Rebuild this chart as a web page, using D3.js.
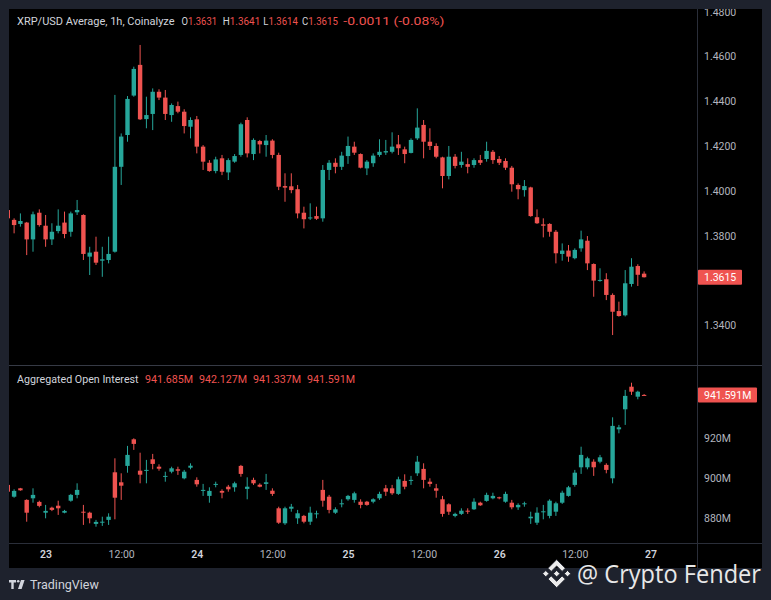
<!DOCTYPE html>
<html>
<head>
<meta charset="utf-8">
<script src="https://cdn.jsdelivr.net/npm/d3@7"></script>
<style>
  body { margin: 0; background: #1e222d; }
  svg { display: block; font-family: Roboto, sans-serif; }
</style>
</head>
<body>
<svg></svg>
<script>
// XRP/USD 1h candles, first candle 22 Nov 18:00
const priceOpen = [
  1.3915, 1.3871, 1.3853, 1.3859, 1.3784, 1.3903, 1.3845, 1.3784, 1.3821, 1.3859,
  1.3818, 1.3905, 1.3893, 1.3707, 1.3729, 1.3689, 1.3692, 1.3729, 1.4108, 1.4250,
  1.4426, 1.4563, 1.4321, 1.4344, 1.4443, 1.4417, 1.4339, 1.4379, 1.4354, 1.4287,
  1.4320, 1.4198, 1.4126, 1.4089, 1.4146, 1.4083, 1.4131, 1.4161, 1.4317, 1.4165,
  1.4223, 1.4205, 1.4225, 1.4161, 1.4022, 1.4021, 1.4008, 1.3903, 1.3878, 1.3888,
  1.3878, 1.4094, 1.4126, 1.4108, 1.4156, 1.4198, 1.4165, 1.4101, 1.4124, 1.4161,
  1.4172, 1.4175, 1.4208, 1.4186, 1.4170, 1.4235, 1.4295, 1.4220, 1.4201, 1.4150,
  1.4067, 1.4153, 1.4116, 1.4120, 1.4116, 1.4138, 1.4143, 1.4175, 1.4143, 1.4134,
  1.4104, 1.4027, 1.4004, 1.4016, 1.3883, 1.3851, 1.3853, 1.3818, 1.3719, 1.3734,
  1.3700, 1.3744, 1.3778, 1.3674, 1.3600, 1.3606, 1.3536, 1.3464, 1.3445, 1.3585,
  1.3665, 1.3631
]
const priceHigh = [
  1.3922, 1.3878, 1.3900, 1.3862, 1.3908, 1.3918, 1.3893, 1.3856, 1.3918, 1.3908,
  1.3908, 1.3960, 1.3896, 1.3751, 1.3796, 1.3751, 1.3796, 1.4429, 1.4257, 1.4424,
  1.4555, 1.4652, 1.4421, 1.4458, 1.4454, 1.4451, 1.4391, 1.4399, 1.4365, 1.4329,
  1.4335, 1.4205, 1.4138, 1.4153, 1.4161, 1.4146, 1.4165, 1.4305, 1.4329, 1.4235,
  1.4228, 1.4250, 1.4231, 1.4171, 1.4079, 1.4079, 1.4027, 1.3930, 1.3945, 1.3930,
  1.4116, 1.4138, 1.4146, 1.4175, 1.4243, 1.4220, 1.4168, 1.4138, 1.4168, 1.4231,
  1.4228, 1.4262, 1.4250, 1.4198, 1.4235, 1.4369, 1.4317, 1.4280, 1.4213, 1.4153,
  1.4201, 1.4165, 1.4175, 1.4146, 1.4146, 1.4161, 1.4220, 1.4183, 1.4156, 1.4146,
  1.4112, 1.4034, 1.4049, 1.4019, 1.3918, 1.3878, 1.3856, 1.3826, 1.3766, 1.3759,
  1.3744, 1.3823, 1.3799, 1.3677, 1.3655, 1.3633, 1.3543, 1.3506, 1.3647, 1.3700,
  1.3673, 1.3641
]
const priceLow = [
  1.3871, 1.3811, 1.3841, 1.3714, 1.3729, 1.3841, 1.3751, 1.3759, 1.3811, 1.3789,
  1.3796, 1.3893, 1.3692, 1.3625, 1.3670, 1.3617, 1.3677, 1.3725, 1.4027, 1.4220,
  1.4421, 1.4317, 1.4280, 1.4272, 1.4406, 1.4317, 1.4309, 1.4347, 1.4257, 1.4235,
  1.4168, 1.4094, 1.4086, 1.4079, 1.4071, 1.4049, 1.4126, 1.4153, 1.4150, 1.4138,
  1.4168, 1.4153, 1.4146, 1.4004, 1.3952, 1.3990, 1.3878, 1.3833, 1.3871, 1.3871,
  1.3863, 1.4049, 1.4079, 1.4094, 1.4121, 1.4161, 1.4101, 1.4071, 1.4108, 1.4153,
  1.4161, 1.4168, 1.4161, 1.4124, 1.4168, 1.4228, 1.4146, 1.4183, 1.4146, 1.4012,
  1.4052, 1.4101, 1.4104, 1.4079, 1.4104, 1.4116, 1.4131, 1.4121, 1.4116, 1.4094,
  1.3997, 1.3963, 1.3975, 1.3885, 1.3853, 1.3793, 1.3796, 1.3677, 1.3689, 1.3684,
  1.3695, 1.3729, 1.3647, 1.3528, 1.3595, 1.3513, 1.3357, 1.3439, 1.3440, 1.3573,
  1.3576, 1.3614
]
const priceClose = [
  1.3878, 1.3848, 1.3866, 1.3784, 1.3896, 1.3848, 1.3784, 1.3818, 1.3845, 1.3808,
  1.3900, 1.3915, 1.3719, 1.3725, 1.3680, 1.3695, 1.3719, 1.4108, 1.4243, 1.4411,
  1.4545, 1.4320, 1.4339, 1.4443, 1.4417, 1.4344, 1.4384, 1.4354, 1.4290, 1.4317,
  1.4198, 1.4131, 1.4089, 1.4141, 1.4086, 1.4138, 1.4156, 1.4298, 1.4168, 1.4228,
  1.4208, 1.4225, 1.4161, 1.4019, 1.4015, 1.4004, 1.3900, 1.3874, 1.3882, 1.3876,
  1.4094, 1.4126, 1.4108, 1.4158, 1.4201, 1.4171, 1.4104, 1.4131, 1.4158, 1.4175,
  1.4178, 1.4198, 1.4191, 1.4165, 1.4228, 1.4283, 1.4220, 1.4201, 1.4153, 1.4067,
  1.4153, 1.4112, 1.4131, 1.4108, 1.4138, 1.4126, 1.4179, 1.4138, 1.4126, 1.4104,
  1.4030, 1.4008, 1.4022, 1.3888, 1.3856, 1.3845, 1.3818, 1.3722, 1.3734, 1.3707,
  1.3737, 1.3784, 1.3677, 1.3600, 1.3603, 1.3536, 1.3461, 1.3442, 1.3588, 1.3662,
  1.3626, 1.3615
]

// Aggregated open interest, millions
const oiOpen = [
  896.7, 890.8, 895.0, 889.2, 890.0, 888.2, 882.8, 885.3, 886.3, 882.8,
  888.8, 891.7, 883.3, 882.8, 877.2, 877.8, 879.2, 903.0, 898.0, 906.2,
  919.5, 903.8, 903.7, 909.5, 905.8, 900.8, 903.3, 904.5, 900.0, 905.3,
  899.2, 893.7, 891.2, 896.7, 893.7, 895.8, 895.5, 906.2, 894.7, 899.2,
  896.8, 897.2, 893.8, 885.0, 877.5, 884.8, 880.0, 881.2, 878.3, 882.2,
  894.2, 890.8, 882.8, 887.0, 889.5, 889.2, 888.3, 888.3, 888.3, 890.0,
  895.0, 895.0, 892.2, 898.7, 898.7, 902.5, 904.7, 898.3, 895.0, 889.5,
  887.0, 881.2, 882.2, 883.8, 884.5, 887.8, 888.7, 890.0, 890.5, 888.3,
  887.8, 885.5, 887.0, 880.0, 877.8, 883.0, 881.2, 883.3, 887.8, 891.2,
  896.7, 905.5, 905.5, 908.3, 908.3, 906.7, 900.0, 924.5, 934.5, 945.8,
  940.8, 941.685
]
const oiHigh = [
  897.5, 894.5, 895.2, 889.5, 895.0, 888.8, 886.7, 885.8, 888.8, 884.2,
  892.2, 897.5, 886.7, 883.3, 879.2, 880.8, 882.5, 910.0, 902.5, 916.2,
  920.0, 912.8, 909.2, 912.2, 907.0, 903.3, 905.8, 905.8, 904.2, 907.5,
  900.5, 897.2, 895.5, 898.3, 894.5, 896.7, 898.3, 906.7, 900.5, 900.3,
  897.5, 902.2, 895.0, 885.8, 885.8, 887.2, 884.2, 881.7, 885.8, 883.8,
  899.2, 891.7, 885.5, 889.5, 891.7, 893.3, 889.5, 888.7, 890.0, 893.3,
  896.7, 896.7, 900.8, 902.0, 901.2, 911.2, 907.5, 900.0, 897.2, 891.2,
  887.5, 882.8, 885.0, 885.0, 890.0, 888.3, 892.8, 892.8, 890.8, 893.3,
  889.2, 887.5, 888.3, 883.3, 885.5, 886.7, 889.5, 888.3, 893.8, 896.2,
  904.2, 915.8, 910.8, 909.5, 911.7, 907.5, 930.5, 926.7, 944.2, 947.8,
  943.8, 942.127
]
const oiLow = [
  892.5, 890.3, 893.8, 878.3, 887.8, 885.5, 880.0, 883.6, 881.7, 882.5,
  888.3, 890.0, 876.7, 877.5, 875.8, 876.2, 876.7, 879.5, 889.2, 902.8,
  914.2, 897.5, 897.5, 904.5, 903.8, 898.3, 902.5, 901.7, 899.5, 904.5,
  895.8, 891.2, 887.8, 895.5, 890.0, 893.3, 893.3, 900.8, 889.5, 896.7,
  895.5, 894.2, 891.2, 877.2, 876.7, 883.3, 877.2, 877.5, 876.7, 880.0,
  885.8, 882.5, 882.2, 885.5, 888.8, 887.8, 885.0, 886.3, 887.5, 889.2,
  891.2, 891.7, 891.7, 894.5, 896.7, 901.2, 895.0, 895.8, 890.3, 880.8,
  881.7, 880.5, 881.7, 882.2, 884.2, 886.2, 888.3, 889.5, 889.5, 887.8,
  884.5, 884.2, 885.8, 877.2, 876.7, 879.5, 880.0, 881.2, 887.2, 890.8,
  895.8, 902.2, 904.5, 901.2, 907.5, 902.5, 897.5, 922.5, 926.7, 941.7,
  939.5, 941.337
]
const oiClose = [
  893.3, 893.7, 894.0, 882.8, 891.7, 886.2, 883.7, 884.2, 885.0, 883.7,
  891.7, 894.2, 882.8, 880.0, 878.2, 878.3, 880.8, 890.3, 896.3, 911.7,
  917.2, 901.8, 904.2, 907.2, 904.8, 901.2, 905.0, 903.8, 903.3, 906.3,
  897.0, 894.2, 893.7, 897.2, 892.8, 894.5, 897.5, 902.2, 895.8, 897.5,
  895.8, 898.0, 892.2, 877.8, 885.0, 885.8, 882.5, 878.3, 882.8, 882.5,
  888.8, 884.2, 884.5, 887.5, 891.2, 892.5, 886.7, 886.7, 889.5, 892.2,
  893.3, 892.5, 899.5, 895.8, 899.2, 908.3, 899.2, 897.2, 893.8, 882.2,
  883.3, 882.2, 883.8, 883.3, 888.3, 886.5, 891.7, 891.2, 890.0, 892.2,
  885.5, 886.7, 887.5, 880.8, 882.8, 883.5, 888.8, 887.5, 892.8, 895.5,
  902.8, 911.7, 910.0, 905.5, 910.5, 904.2, 926.2, 925.5, 941.2, 943.3,
  943.3, 941.591
]

const priceTicks = [1.34, 1.38, 1.40, 1.42, 1.44, 1.46, 1.48]
const oiTicks = [880, 900, 920]
const timeTickHours = [0, 12, 24, 36, 48, 60, 72, 84, 96]
const timeTickLabels = ['23', '12:00', '24', '12:00', '25', '12:00', '26', '12:00', '27']

const up = '#26a69a'
const down = '#ef5350'
const textColor = '#b2b5be'
const lineColor = '#2a2e39'

const width = 771
const height = 600
const area = { left: 9, top: 9, right: 762, bottom: 568 }
const scaleX = 697 // left edge of the price scale
const paneSplit = 365
const timeAxisTop = 543

const firstCandle = new Date(Date.UTC(2024, 10, 22, 18))
const day23 = new Date(Date.UTC(2024, 10, 23))
const times = priceOpen.map((d, i) => d3.utcHour.offset(firstCandle, i))

const x = d3.scaleUtc()
  .domain([day23, d3.utcHour.offset(day23, 96)])
  .range([45.6, 650.4])

const yPrice = d3.scaleLinear()
  .domain([1.34, 1.48])
  .range([325.4, 11.8])

const yOi = d3.scaleLinear()
  .domain([880, 920])
  .range([518.3, 438.3])

const svg = d3.select('svg')
  .attr('width', width)
  .attr('height', height)

const defs = svg.append('defs')
defs.append('clipPath').attr('id', 'plot')
  .append('rect')
  .attr('x', area.left).attr('y', area.top)
  .attr('width', scaleX - area.left).attr('height', timeAxisTop - area.top)
defs.append('clipPath').attr('id', 'scale')
  .append('rect')
  .attr('x', scaleX).attr('y', area.top)
  .attr('width', area.right - scaleX).attr('height', timeAxisTop - area.top)

// black chart background
svg.append('rect')
  .attr('x', area.left).attr('y', area.top)
  .attr('width', area.right - area.left)
  .attr('height', area.bottom - area.top)
  .attr('fill', '#000')

function frameLines (g) {
  g.attr('stroke', lineColor).attr('stroke-width', 1)
  g.append('line')
    .attr('x1', scaleX + 0.5).attr('x2', scaleX + 0.5)
    .attr('y1', area.top).attr('y2', area.bottom)
  g.append('line')
    .attr('x1', area.left).attr('x2', area.right)
    .attr('y1', paneSplit + 0.5).attr('y2', paneSplit + 0.5)
    .attr('stroke', '#363a45')
  g.append('line')
    .attr('x1', area.left).attr('x2', area.right)
    .attr('y1', timeAxisTop + 0.5).attr('y2', timeAxisTop + 0.5)
}

function candles (g, y, o, h, l, c) {
  const data = o.map((d, i) => ({ t: times[i], o: d, h: h[i], l: l[i], c: c[i] }))
  const bar = g.attr('clip-path', 'url(#plot)')
    .selectAll('g')
    .data(data)
    .join('g')
    .attr('fill', d => d.c >= d.o ? up : down)
  // wick
  bar.append('rect')
    .attr('x', d => x(d.t) - 0.5)
    .attr('width', 1)
    .attr('y', d => y(d.h))
    .attr('height', d => Math.max(1, y(d.l) - y(d.h)))
  // body
  bar.append('rect')
    .attr('x', d => x(d.t) - 2.2)
    .attr('width', 4.4)
    .attr('y', d => y(Math.max(d.o, d.c)))
    .attr('height', d => Math.max(1, Math.abs(y(d.o) - y(d.c))))
}

function rightAxis (g, y, ticks, format) {
  g.attr('clip-path', 'url(#scale)')
    .append('g')
    .attr('transform', `translate(${scaleX},0)`)
    .call(d3.axisRight(y).tickValues(ticks).tickFormat(format).tickSize(0).tickPadding(7))
    .call(g => g.select('.domain').remove())
    .call(g => g.selectAll('text')
      .attr('fill', textColor)
      .attr('font-size', '10.5px')
      .attr('font-family', 'Roboto, sans-serif'))
}

function lastValue (g, y, value, label, boxWidth) {
  g.append('rect')
    .attr('x', scaleX + 1).attr('y', y(value) - 7.5)
    .attr('width', boxWidth).attr('height', 15)
    .attr('rx', 1)
    .attr('fill', down)
  g.append('text')
    .attr('x', scaleX + 7).attr('y', y(value))
    .attr('dy', '0.35em')
    .attr('fill', '#fff')
    .attr('font-size', '10.5px')
    .text(label)
}

function timeAxis (g) {
  g.attr('transform', `translate(0,${timeAxisTop})`)
    .call(d3.axisBottom(x)
      .tickValues(timeTickHours.map(h => d3.utcHour.offset(day23, h)))
      .tickFormat((d, i) => timeTickLabels[i])
      .tickSize(0)
      .tickPadding(8))
    .call(g => g.select('.domain').remove())
    .call(g => g.selectAll('text')
      .attr('fill', (d, i) => timeTickLabels[i].includes(':') ? textColor : '#d1d4dc')
      .attr('font-weight', (d, i) => timeTickLabels[i].includes(':') ? 400 : 600)
      .attr('font-size', '10.5px')
      .attr('font-family', 'Roboto, sans-serif'))
}

function priceLegend (g) {
  const last = priceOpen.length - 1
  const c = priceClose[last]
  const prev = priceClose[last - 1]
  const parts = [
    ['O', priceOpen[last]], ['H', priceHigh[last]], ['L', priceLow[last]], ['C', c]
  ]
  // left edge and width of each O/H/L/C item
  const xs = [181.5, 222.7, 263.3, 301.9]
  const ws = [35.5, 37.5, 34.5, 36]
  g.attr('font-size', '11px').attr('dominant-baseline', 'central')
  g.append('text')
    .attr('x', 17).attr('y', 21)
    .attr('fill', '#d1d4dc')
    .text('XRP/USD Average, 1h, Coinalyze')
  parts.forEach((p, i) => {
    const t = g.append('text').attr('x', xs[i]).attr('y', 21)
      .attr('textLength', ws[i]).attr('lengthAdjust', 'spacingAndGlyphs')
    t.append('tspan').attr('fill', '#d1d4dc').text(p[0])
    t.append('tspan').attr('fill', down).text(p[1].toFixed(4))
  })
  g.append('text')
    .attr('x', 343.3).attr('y', 21)
    .attr('fill', down)
    .attr('textLength', 101).attr('lengthAdjust', 'spacingAndGlyphs')
    .text(`${(c - prev).toFixed(4)} (${((c - prev) / prev * 100).toFixed(2)}%)`)
}

function oiLegend (g) {
  const last = oiOpen.length - 1
  const values = [oiOpen[last], oiHigh[last], oiLow[last], oiClose[last]]
  const xs = [145, 199, 253, 307]
  g.attr('font-size', '10.7px').attr('dominant-baseline', 'central')
  g.append('text')
    .attr('x', 17).attr('y', 379)
    .attr('fill', '#d1d4dc')
    .text('Aggregated Open Interest')
  g.selectAll('text.v')
    .data(values)
    .join('text')
    .attr('class', 'v')
    .attr('x', (d, i) => xs[i]).attr('y', 379)
    .attr('fill', down)
    .text(d => d.toFixed(3) + 'M')
}

function tradingViewMark (g) {
  g.attr('fill', '#d1d4dc')
  g.append('path')
    .attr('d', 'M9 580h7v2.6h-2.3v6.4h-2.4v-6.4H9z')
  g.append('circle').attr('cx', 18.2).attr('cy', 581.3).attr('r', 1.3)
  g.append('path').attr('d', 'M21 580h3.6l-3 9h-3.6z')
  g.append('text')
    .attr('x', 30).attr('y', 584.5)
    .attr('dominant-baseline', 'central')
    .attr('font-size', '12.5px')
    .text('TradingView')
}

function watermark (g) {
  g.append('path')
    .attr('transform', 'translate(542.6,559.6) scale(0.222)')
    .attr('fill', '#ececec')
    .attr('stroke', '#1e222d')
    .attr('stroke-width', 4)
    .attr('d', 'M38.73 53.2l24.59-24.58 24.6 24.6 14.3-14.31L63.32 0 24.43 38.9zM0 63.31l14.3-14.31 14.31 14.31-14.31 14.3zM38.73 73.41l24.59 24.59 24.6-24.6 14.31 14.29-38.9 38.91-38.93-38.9zM98 63.31L112.3 49l14.31 14.3-14.31 14.32zM77.83 63.3L63.32 48.78 48.81 63.3 63.32 77.81z')
  g.append('text')
    .attr('x', 577).attr('y', 583)
    .attr('font-family', '"Open Sans", sans-serif')
    .attr('font-size', '25px')
    .attr('textLength', 184)
    .attr('lengthAdjust', 'spacingAndGlyphs')
    .attr('fill', '#e8e8e8')
    .text('@ Crypto Fender')
}

svg.append('g').call(frameLines)

svg.append('g').call(candles, yPrice, priceOpen, priceHigh, priceLow, priceClose)
svg.append('g').call(candles, yOi, oiOpen, oiHigh, oiLow, oiClose)

svg.append('g').call(rightAxis, yPrice, priceTicks, d3.format('.4f'))
svg.append('g').call(rightAxis, yOi, oiTicks, d => d + 'M')

svg.append('g').call(lastValue, yPrice, priceClose[priceClose.length - 1], priceClose[priceClose.length - 1].toFixed(4), 44)
svg.append('g').call(lastValue, yOi, oiClose[oiClose.length - 1], oiClose[oiClose.length - 1].toFixed(3) + 'M', 59)

svg.append('g').call(timeAxis)
svg.append('g').call(priceLegend)
svg.append('g').call(oiLegend)
svg.append('g').call(tradingViewMark)
svg.append('g').call(watermark)
</script>
</body>
</html>
